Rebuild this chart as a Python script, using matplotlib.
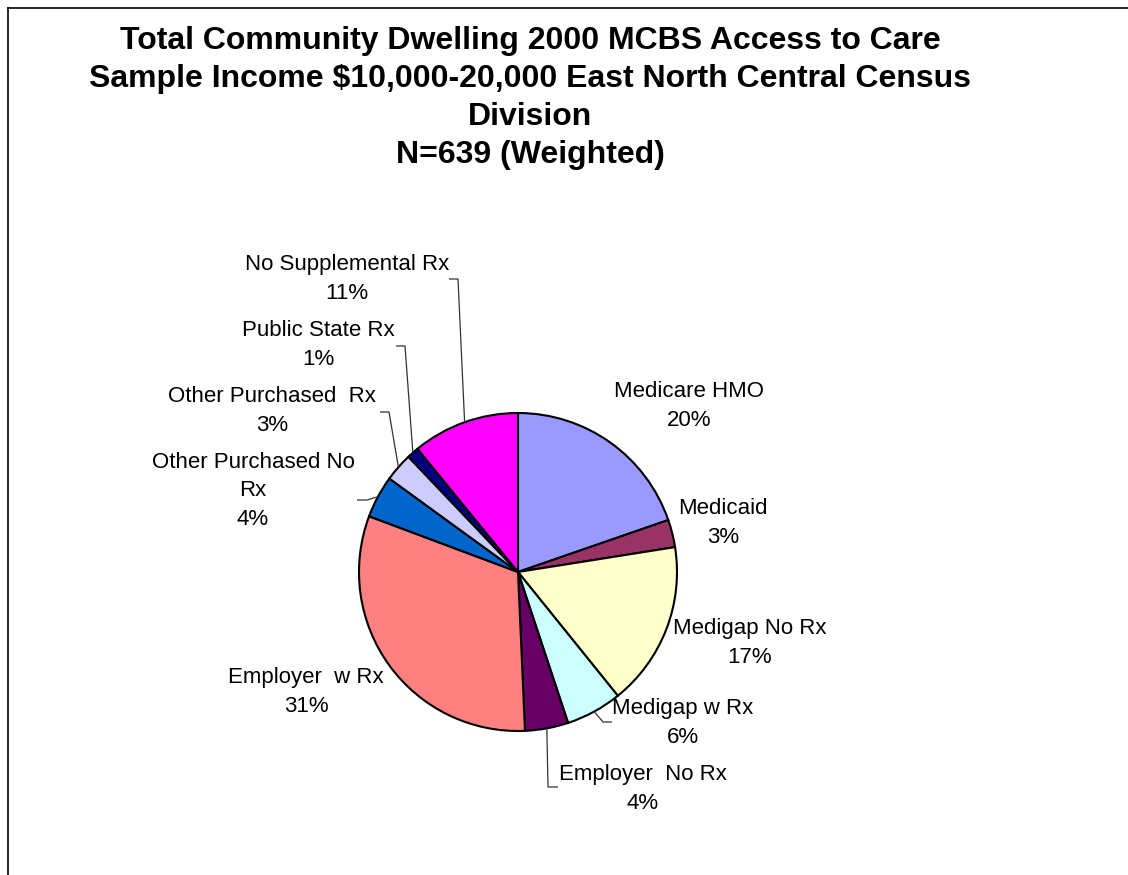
import matplotlib
matplotlib.use("Agg")
import numpy as np
import matplotlib.pyplot as plt
from matplotlib.lines import Line2D

plt.rcParams['font.family'] = ['Liberation Sans', 'DejaVu Sans']

# figure size in pixels (dpi 100)
W, H = 1128, 875

title = ("Total Community Dwelling 2000 MCBS Access to Care\n"
         "Sample Income \\$10,000-20,000 East North Central Census\n"
         "Division\n"
         "N=639 (Weighted)")

categories = ["Medicare HMO", "Medicaid", "Medigap No Rx", "Medigap w Rx",
              "Employer  No Rx", "Employer  w Rx", "Other Purchased No\nRx",
              "Other Purchased  Rx", "Public State Rx", "No Supplemental Rx"]
shares = [19.7, 2.8, 16.7, 5.7, 4.4, 31.4, 4.3, 2.9, 1.2, 10.9]
colors = ["#9999FF", "#993366", "#FFFFCC", "#CCFFFF", "#660066",
          "#FF8080", "#0066CC", "#CCCCFF", "#000080", "#FF00FF"]

# label block centres, pixel coords from top-left
label_pos = [(689, 406), (723, 523), (750, 643), (683, 723), (643, 789),
             (306, 692), (253, 491), (272, 411), (318, 345), (347, 279)]
# leader lines: slice index -> (end x, end y, knee offset toward the pie)
leaders = {3: (612, 722, -9), 4: (558, 787, -10), 6: (357, 500, 10),
           7: (380, 412, 9), 8: (396, 346, 9), 9: (449, 279, 9)}

pie_center = (518, 572)
pie_radius = 159

fig = plt.figure(figsize=(W / 100, H / 100), dpi=100)
ax = fig.add_axes([0, 0, 1, 1])

# y axis runs downward, so counterclock=True turns clockwise on screen
wedges, _ = ax.pie(shares, colors=colors, startangle=-90, counterclock=True,
                   center=pie_center, radius=pie_radius,
                   wedgeprops=dict(edgecolor='black', linewidth=1.5))
ax.set_xlim(0, W)
ax.set_ylim(H, 0)
ax.set_aspect('equal')
ax.axis('off')

for i, (name, val) in enumerate(zip(categories, shares)):
    x, y = label_pos[i]
    ax.text(x, y, f"{name}\n{val:.0f}%", ha='center', va='center',
            fontsize=16, linespacing=1.45, color='black')

for i, (ex, ey, dx) in leaders.items():
    w = wedges[i]
    mid = np.deg2rad((w.theta1 + w.theta2) / 2)
    sx = pie_center[0] + pie_radius * np.cos(mid)
    sy = pie_center[1] + pie_radius * np.sin(mid)
    ax.plot([sx, ex + dx, ex], [sy, ey, ey], color='#333333', lw=0.9,
            solid_capstyle='butt')

ax.text(530, 98, title, ha='center', va='center', fontsize=23,
        fontweight='bold', linespacing=1.34)

# chart area frame: only its top and left edges fall inside the image
fig.add_artist(Line2D([8 / W, 1], [1 - 8 / H, 1 - 8 / H], color='black', lw=1.2))
fig.add_artist(Line2D([8 / W, 8 / W], [0, 1 - 8 / H], color='black', lw=1.2))

fig.savefig("out.png", dpi=100)
